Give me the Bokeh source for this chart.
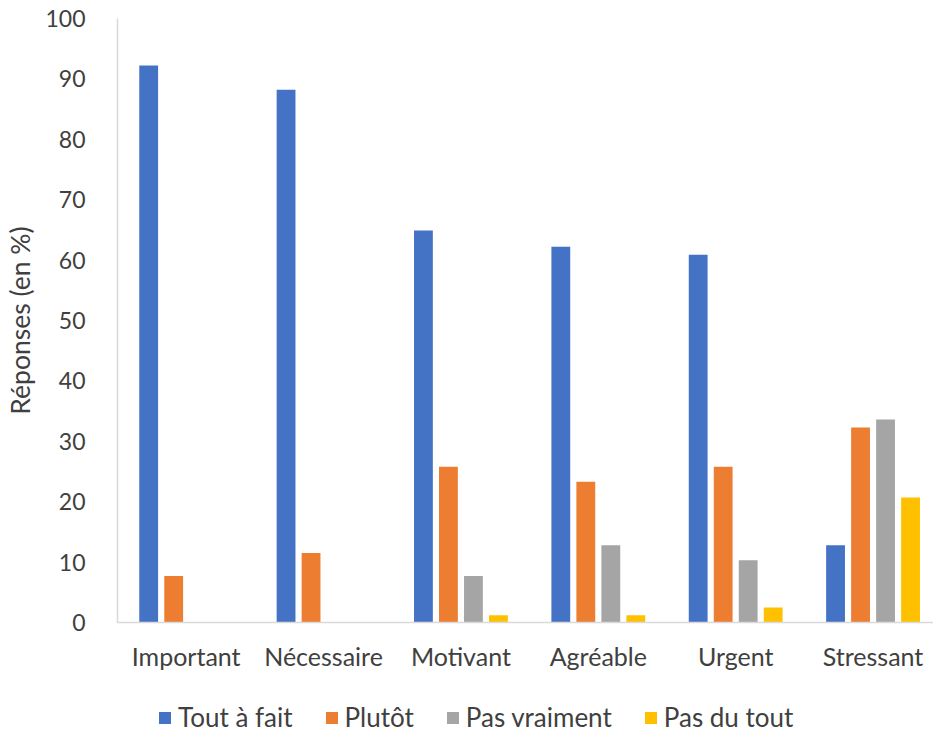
from bokeh.plotting import figure
from bokeh.layouts import column
from bokeh.models import Range1d, FixedTicker, Legend, LegendItem, ColumnDataSource
from bokeh.embed import file_html
from bokeh.resources import INLINE

categories = ["Important", "Nécessaire", "Motivant", "Agréable", "Urgent", "Stressant"]
series_names = ["Tout à fait", "Plutôt", "Pas vraiment", "Pas du tout"]
tout_a_fait = [92.2, 88.2, 64.9, 62.2, 60.9, 12.8]
plutot = [7.7, 11.5, 25.8, 23.3, 25.8, 32.3]
pas_vraiment = [0, 0, 7.7, 12.8, 10.3, 33.6]
pas_du_tout = [0, 0, 1.2, 1.2, 2.5, 20.7]
y_ticks = [0, 10, 20, 30, 40, 50, 60, 70, 80, 90, 100]

colors = ["#4472C4", "#ED7D31", "#A5A5A5", "#FFC000"]
offsets = [-0.273, -0.091, 0.091, 0.273]
bar_w = 0.137
FONT = "Lato"
TXT = "#404040"

fig = figure(width=933, height=673, output_backend="svg", toolbar_location=None,
             x_range=Range1d(0, 5.94), y_range=Range1d(0, 100),
             min_border_left=117, min_border_right=0, min_border_top=18, min_border_bottom=0)
fig.outline_line_color = None
fig.grid.visible = False

sources = []
for vals, off in zip([tout_a_fait, plutot, pas_vraiment, pas_du_tout], offsets):
    sources.append(ColumnDataSource(dict(x=[i + 0.5 + off for i in range(len(categories))], top=vals)))

for src, col in zip(sources, colors):
    fig.vbar(x="x", top="top", bottom=0, width=bar_w, source=src, fill_color=col, line_color=None)

# X axis
fig.xaxis.ticker = FixedTicker(ticks=[i + 0.5 for i in range(len(categories))])
fig.xaxis.major_label_overrides = {i + 0.5: c for i, c in enumerate(categories)}
fig.xaxis.major_tick_line_color = None
fig.xaxis.minor_tick_line_color = None
fig.xaxis.axis_line_color = "#D9D9D9"
fig.xaxis.axis_line_width = 1.5
fig.xaxis.major_label_text_font = FONT
fig.xaxis.major_label_text_font_size = "25px"
fig.xaxis.major_label_text_color = TXT
fig.xaxis.major_label_standoff = 12

# Y axis
fig.yaxis.ticker = FixedTicker(ticks=y_ticks)
fig.yaxis.major_tick_line_color = None
fig.yaxis.minor_tick_line_color = None
fig.yaxis.axis_line_color = "#D9D9D9"
fig.yaxis.axis_line_width = 1.5
fig.yaxis.major_label_text_font = FONT
fig.yaxis.major_label_text_font_size = "23px"
fig.yaxis.major_label_text_color = TXT
fig.yaxis.major_label_standoff = 26
fig.yaxis.axis_label = "Réponses (en %)"
fig.yaxis.axis_label_text_font = FONT
fig.yaxis.axis_label_text_font_size = "26.5px"
fig.yaxis.axis_label_text_font_style = "normal"
fig.yaxis.axis_label_text_color = TXT
fig.yaxis.axis_label_standoff = 6

# Legend strip below the chart
leg = figure(width=933, height=60, output_backend="svg", toolbar_location=None,
             x_range=Range1d(0, 5.94), y_range=Range1d(1000, 1001),
             min_border_left=0, min_border_right=0, min_border_top=0, min_border_bottom=0)
leg.outline_line_color = None
leg.grid.visible = False
leg.axis.visible = False
leg_renderers = []
for src, col in zip(sources, colors):
    leg_renderers.append(leg.vbar(x="x", top="top", bottom=0, width=bar_w, source=src,
                                  fill_color=col, line_color=None))

legend = Legend(items=[LegendItem(label=n, renderers=[r]) for n, r in zip(series_names, leg_renderers)],
                orientation="horizontal", location=(40, 0),
                glyph_width=15, glyph_height=15, label_standoff=6, spacing=31,
                padding=0, margin=0, border_line_color=None, background_fill_alpha=0,
                label_text_font=FONT, label_text_font_size="26px", label_text_color=TXT)
leg.add_layout(legend, "center")

p = column(fig, leg, spacing=0)
open("out.html", "w").write(file_html(p, INLINE))
